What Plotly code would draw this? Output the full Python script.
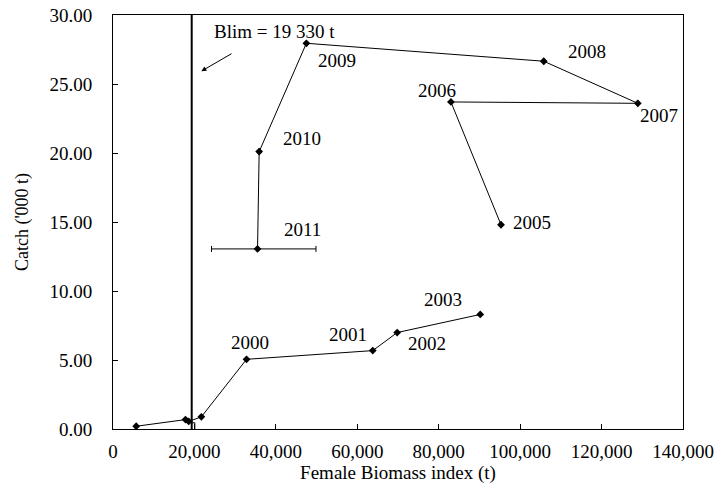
import plotly.graph_objects as go

# Data
biomass = [5700, 17800, 18600, 21700, 32800, 63800, 69800, 90200]
catch = [0.20, 0.68, 0.55, 0.88, 5.05, 5.68, 6.99, 8.30]

biomass2 = [95300, 83000, 128900, 105800, 47500, 35900, 35500]
catch2 = [14.80, 23.70, 23.60, 26.65, 27.95, 20.10, 13.05]
err_minus = [0, 0, 0, 0, 0, 0, 11300]
err_plus = [0, 0, 0, 0, 0, 0, 14350]

blim = 19330
blim_tick_x = [19330, 20100, 20100]
blim_tick_y = [0.45, 0.45, 0.0]

year_labels = ["2000", "2001", "2002", "2003", "2005", "2006", "2007", "2008", "2009", "2010", "2011"]
label_x = [33590, 57780, 77070, 81080, 102900, 79530, 134050, 116440, 55000, 46380, 46630]
label_y = [6.26, 6.82, 6.22, 9.4, 14.93, 24.55, 22.71, 27.38, 26.7, 21.04, 14.44]

x_ticks = [0, 20000, 40000, 60000, 80000, 100000, 120000, 140000]
y_ticks = [0, 5, 10, 15, 20, 25, 30]

FONT = "Liberation Serif, Times New Roman, serif"

fig = go.Figure()

fig.add_trace(go.Scatter(
    x=biomass, y=catch, mode="lines+markers",
    line=dict(color="black", width=1),
    marker=dict(symbol="diamond", size=6, color="black"),
    showlegend=False, cliponaxis=False))

fig.add_trace(go.Scatter(
    x=biomass2, y=catch2, mode="lines+markers",
    line=dict(color="black", width=1),
    marker=dict(symbol="diamond", size=6, color="black"),
    error_x=dict(type="data", symmetric=False, array=err_plus, arrayminus=err_minus,
                 color="black", thickness=1, width=3),
    showlegend=False, cliponaxis=False))

fig.add_trace(go.Scatter(
    x=blim_tick_x, y=blim_tick_y, mode="lines",
    line=dict(color="black", width=1), showlegend=False))

fig.add_trace(go.Scatter(
    x=[blim, blim], y=[0, 30], mode="lines",
    line=dict(color="black", width=2), showlegend=False))

for t, lx, ly in zip(year_labels, label_x, label_y):
    fig.add_annotation(x=lx, y=ly, text=t, showarrow=False,
                       font=dict(family=FONT, size=19, color="black"))

fig.add_annotation(x=39740, y=28.81, text="Blim = 19 330 t", showarrow=False,
                   font=dict(family=FONT, size=19, color="black"))
fig.add_annotation(x=21700, y=25.93, ax=29480, ay=27.26, axref="x", ayref="y",
                   text="", showarrow=True, arrowhead=2, arrowsize=1,
                   arrowwidth=1, arrowcolor="black")

fig.update_layout(
    width=718, height=485,
    margin=dict(l=113, r=35, t=15, b=56),
    paper_bgcolor="white", plot_bgcolor="white",
    font=dict(family=FONT, size=19, color="black"),
    showlegend=False,
)
fig.update_xaxes(
    range=[0, 140000], tickvals=x_ticks, tickformat=",",
    ticks="inside", ticklen=5, tickcolor="black", ticklabelstandoff=5,
    showline=True, linecolor="black", linewidth=1, mirror=True,
    showgrid=False, zeroline=False, automargin=False, ticklabeloverflow="allow",
    title=dict(text="Female Biomass index (t)", font=dict(size=19), standoff=4),
)
fig.update_yaxes(
    range=[0, 30], tickvals=y_ticks, tickformat=".2f",
    ticks="inside", ticklen=5, tickcolor="black", ticklabelstandoff=16,
    showline=True, linecolor="black", linewidth=1, mirror=True,
    showgrid=False, zeroline=False, automargin=False, ticklabeloverflow="allow",
    title=dict(text="Catch ('000 t)", font=dict(size=18), standoff=16),
)

fig.write_html("out.html", config={"displayModeBar": False},
               post_script="document.body.style.margin='0';")
